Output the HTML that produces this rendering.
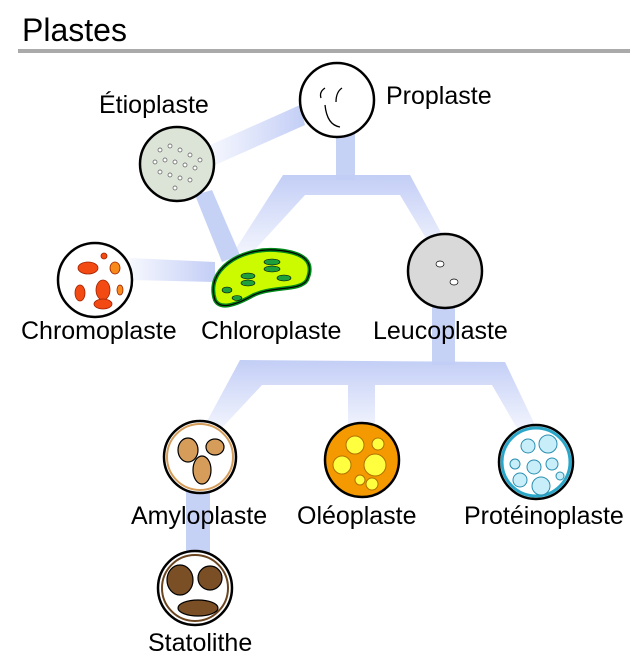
<!DOCTYPE html>
<html><head><meta charset="utf-8"><style>
body{margin:0;background:#fff;}
svg{display:block;}
text{font-family:"Liberation Sans",sans-serif;font-size:25px;fill:#000;}
</style></head><body>
<svg width="640" height="666" viewBox="0 0 640 666" xmlns="http://www.w3.org/2000/svg">
<defs>
<linearGradient id="fd" x1="0" y1="0" x2="0" y2="1"><stop offset="0" stop-color="#c3cef6"/><stop offset="1" stop-color="#c3cef6" stop-opacity="0.2"/></linearGradient>
<linearGradient id="fl" x1="1" y1="0" x2="0" y2="0"><stop offset="0" stop-color="#c3cef6"/><stop offset="1" stop-color="#c3cef6" stop-opacity="0.15"/></linearGradient>
</defs>
<text x="22" y="41" style="font-size:32px">Plastes</text>
<rect x="18" y="49" width="612" height="4" fill="#aaa"/>

<g fill="#c6d1f6">
<rect x="336" y="130" width="19" height="50"/>
<polygon points="283,175 410,175 445,240 430,245 400,195 305,195 250,255 235,250" fill="url(#fd)"/>
<polygon points="210,145 300,105 305,125 215,165" fill="url(#fl)"/>
<polygon points="195,195 212,190 240,255 222,262" fill="#c6d1f6"/>
<polygon points="130,258 215,262 215,282 130,280" fill="url(#fl)"/>
<rect x="432" y="300" width="23" height="65"/>
<polygon points="240,360 505,362 535,425 518,430 492,385 375,385 375,425 348,425 348,385 262,385 220,430 205,425" fill="url(#fd)"/>
<rect x="186" y="485" width="24" height="75"/>
</g>

<circle cx="337" cy="100" r="37" fill="#fff" stroke="#000" stroke-width="2.5"/>
<path d="M325 105 q2 20 15 22 M342 88 q-6 4 -6 14 M325 88 q-6 4 -4 10" fill="none" stroke="#000" stroke-width="1.3"/>
<circle cx="177" cy="164" r="37" fill="#dbe4d6" stroke="#000" stroke-width="2.5"/>
<g fill="#fff" stroke="#555" stroke-width="0.7">
<circle cx="160" cy="150" r="2"/><circle cx="170" cy="146" r="2"/><circle cx="180" cy="150" r="2"/><circle cx="190" cy="155" r="2"/><circle cx="165" cy="160" r="2"/><circle cx="175" cy="162" r="2"/><circle cx="185" cy="165" r="2"/><circle cx="195" cy="168" r="2"/><circle cx="160" cy="172" r="2"/><circle cx="170" cy="175" r="2"/><circle cx="180" cy="178" r="2"/><circle cx="190" cy="180" r="2"/><circle cx="175" cy="188" r="2"/><circle cx="200" cy="160" r="2"/><circle cx="155" cy="162" r="2"/></g>
<circle cx="95" cy="280" r="37" fill="#fff" stroke="#000" stroke-width="2.5"/>
<g fill="#f24a12" stroke="#a02000" stroke-width="0.8">
<ellipse cx="88" cy="268" rx="10" ry="6"/><ellipse cx="103" cy="290" rx="7" ry="10"/><ellipse cx="80" cy="293" rx="5" ry="8"/><ellipse cx="103" cy="304" rx="9" ry="5"/><ellipse cx="115" cy="268" rx="5" ry="6" fill="#f78a1a"/><ellipse cx="120" cy="290" rx="3" ry="5" fill="#f78a1a"/><ellipse cx="104" cy="256" rx="3" ry="3"/></g>
<path d="M215 300 C205 270 240 248 275 250 C305 252 315 262 307 280 C300 292 270 285 250 297 C235 305 220 310 215 300Z" fill="#ccfb00" stroke="#008a1a" stroke-width="4"/>
<path d="M215 300 C205 270 240 248 275 250 C305 252 315 262 307 280 C300 292 270 285 250 297 C235 305 220 310 215 300Z" fill="none" stroke="#000" stroke-width="1.2"/>
<g fill="#1ea03a" stroke="#000" stroke-width="0.6"><ellipse cx="272" cy="262" rx="8" ry="3"/><ellipse cx="272" cy="269" rx="8" ry="3"/><ellipse cx="248" cy="276" rx="7" ry="3"/><ellipse cx="248" cy="283" rx="7" ry="3"/><ellipse cx="284" cy="278" rx="7" ry="3"/><ellipse cx="227" cy="290" rx="5" ry="3"/><ellipse cx="237" cy="298" rx="5" ry="2.5"/></g>
<circle cx="445" cy="271" r="37" fill="#d9d9d9" stroke="#000" stroke-width="2.5"/>
<ellipse cx="440" cy="264" rx="4" ry="3" fill="#fff" stroke="#000" stroke-width="0.7"/><ellipse cx="454" cy="282" rx="4" ry="3" fill="#fff" stroke="#000" stroke-width="0.7"/>
<circle cx="200" cy="457" r="36" fill="#fff" stroke="#000" stroke-width="2.5"/>
<circle cx="200" cy="457" r="33" fill="none" stroke="#d69d5a" stroke-width="2"/>
<g fill="#d69d5a" stroke="#000" stroke-width="1.2"><ellipse cx="188" cy="450" rx="10" ry="12"/><ellipse cx="215" cy="447" rx="9" ry="8"/><ellipse cx="202" cy="470" rx="9" ry="14"/></g>
<circle cx="362" cy="460" r="37" fill="#f49a00" stroke="#000" stroke-width="2.5"/>
<g fill="#ffff40" stroke="#b07000" stroke-width="1"><circle cx="355" cy="445" r="9"/><circle cx="378" cy="444" r="6"/><circle cx="342" cy="465" r="9"/><circle cx="375" cy="465" r="11"/><circle cx="360" cy="480" r="5"/><circle cx="372" cy="484" r="6"/></g>
<circle cx="536" cy="462" r="37" fill="#fff" stroke="#000" stroke-width="2.5"/>
<circle cx="536" cy="462" r="34" fill="none" stroke="#2aa6c8" stroke-width="3"/>
<g fill="#c8eefa" stroke="#2a8fb0" stroke-width="1"><circle cx="528" cy="446" r="7"/><circle cx="548" cy="444" r="9"/><circle cx="515" cy="464" r="5"/><circle cx="534" cy="467" r="7"/><circle cx="552" cy="464" r="6"/><circle cx="520" cy="480" r="7"/><circle cx="541" cy="486" r="9"/><circle cx="560" cy="476" r="4"/></g>
<circle cx="195" cy="588" r="37" fill="#fff" stroke="#000" stroke-width="2.5"/>
<circle cx="195" cy="588" r="33" fill="none" stroke="#6b4420" stroke-width="2"/>
<g fill="#7a4f26" stroke="#000" stroke-width="1.2"><ellipse cx="180" cy="580" rx="13" ry="15"/><ellipse cx="210" cy="578" rx="12" ry="12"/><ellipse cx="198" cy="608" rx="20" ry="8"/></g>

<text x="386" y="104">Proplaste</text>
<text x="99" y="113">Étioplaste</text>
<text x="21" y="339">Chromoplaste</text>
<text x="201" y="339">Chloroplaste</text>
<text x="373" y="339">Leucoplaste</text>
<text x="131" y="524">Amyloplaste</text>
<text x="297" y="524">Oléoplaste</text>
<text x="464" y="524">Protéinoplaste</text>
<text x="148" y="651">Statolithe</text>
</svg>
</body></html>
